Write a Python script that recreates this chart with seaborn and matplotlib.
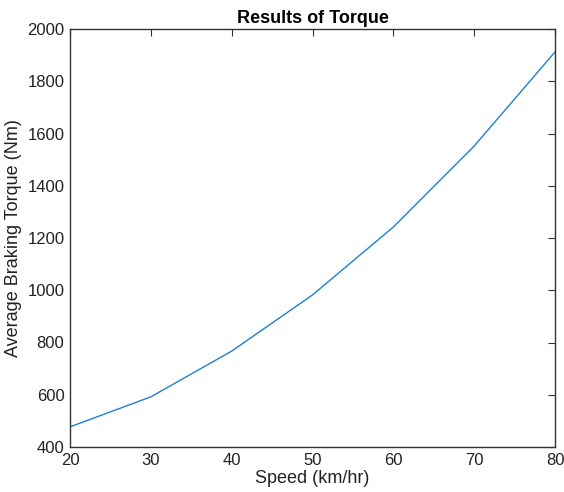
import matplotlib
matplotlib.use("Agg")
import matplotlib.pyplot as plt
import seaborn as sns
import pandas as pd

speed = [20, 30, 40, 50, 60, 70, 80]
torque = [477, 592, 767, 982, 1242, 1552, 1912]
xticks = [20, 30, 40, 50, 60, 70, 80]
yticks = [400, 600, 800, 1000, 1200, 1400, 1600, 1800, 2000]

sns.set_theme(style="white")
plt.rcParams['font.family'] = ['Liberation Sans', 'DejaVu Sans']
plt.rcParams['xtick.direction'] = 'in'
plt.rcParams['ytick.direction'] = 'in'

df = pd.DataFrame({"Speed": speed, "Torque": torque})

fig = plt.figure(figsize=(5.64, 4.92), dpi=100)
ax = fig.add_axes([70/564, 1 - 447/492, (555-70)/564, (447-29)/492])
sns.lineplot(data=df, x="Speed", y="Torque", ax=ax, color="#1f80d0", linewidth=1.0)
ax.set_xlim(20, 80)
ax.set_ylim(400, 2000)
ax.set_xticks(xticks)
ax.set_yticks(yticks)
ax.tick_params(axis='both', which='both', direction='in', top=True, right=True,
               length=5, width=0.8, color='#333333', labelsize=12, labelcolor='#222222', pad=4)
for s in ax.spines.values():
    s.set_color('#333333')
    s.set_linewidth(1.0)
ax.set_xlabel("Speed (km/hr)", fontsize=13, color='#222222', labelpad=2)
ax.set_ylabel("Average Braking Torque (Nm)", fontsize=13, color='#222222', labelpad=4)
ax.set_title("Results of Torque", fontsize=13, fontweight='bold', color='black', pad=4)
fig.savefig("out.png", dpi=100)
